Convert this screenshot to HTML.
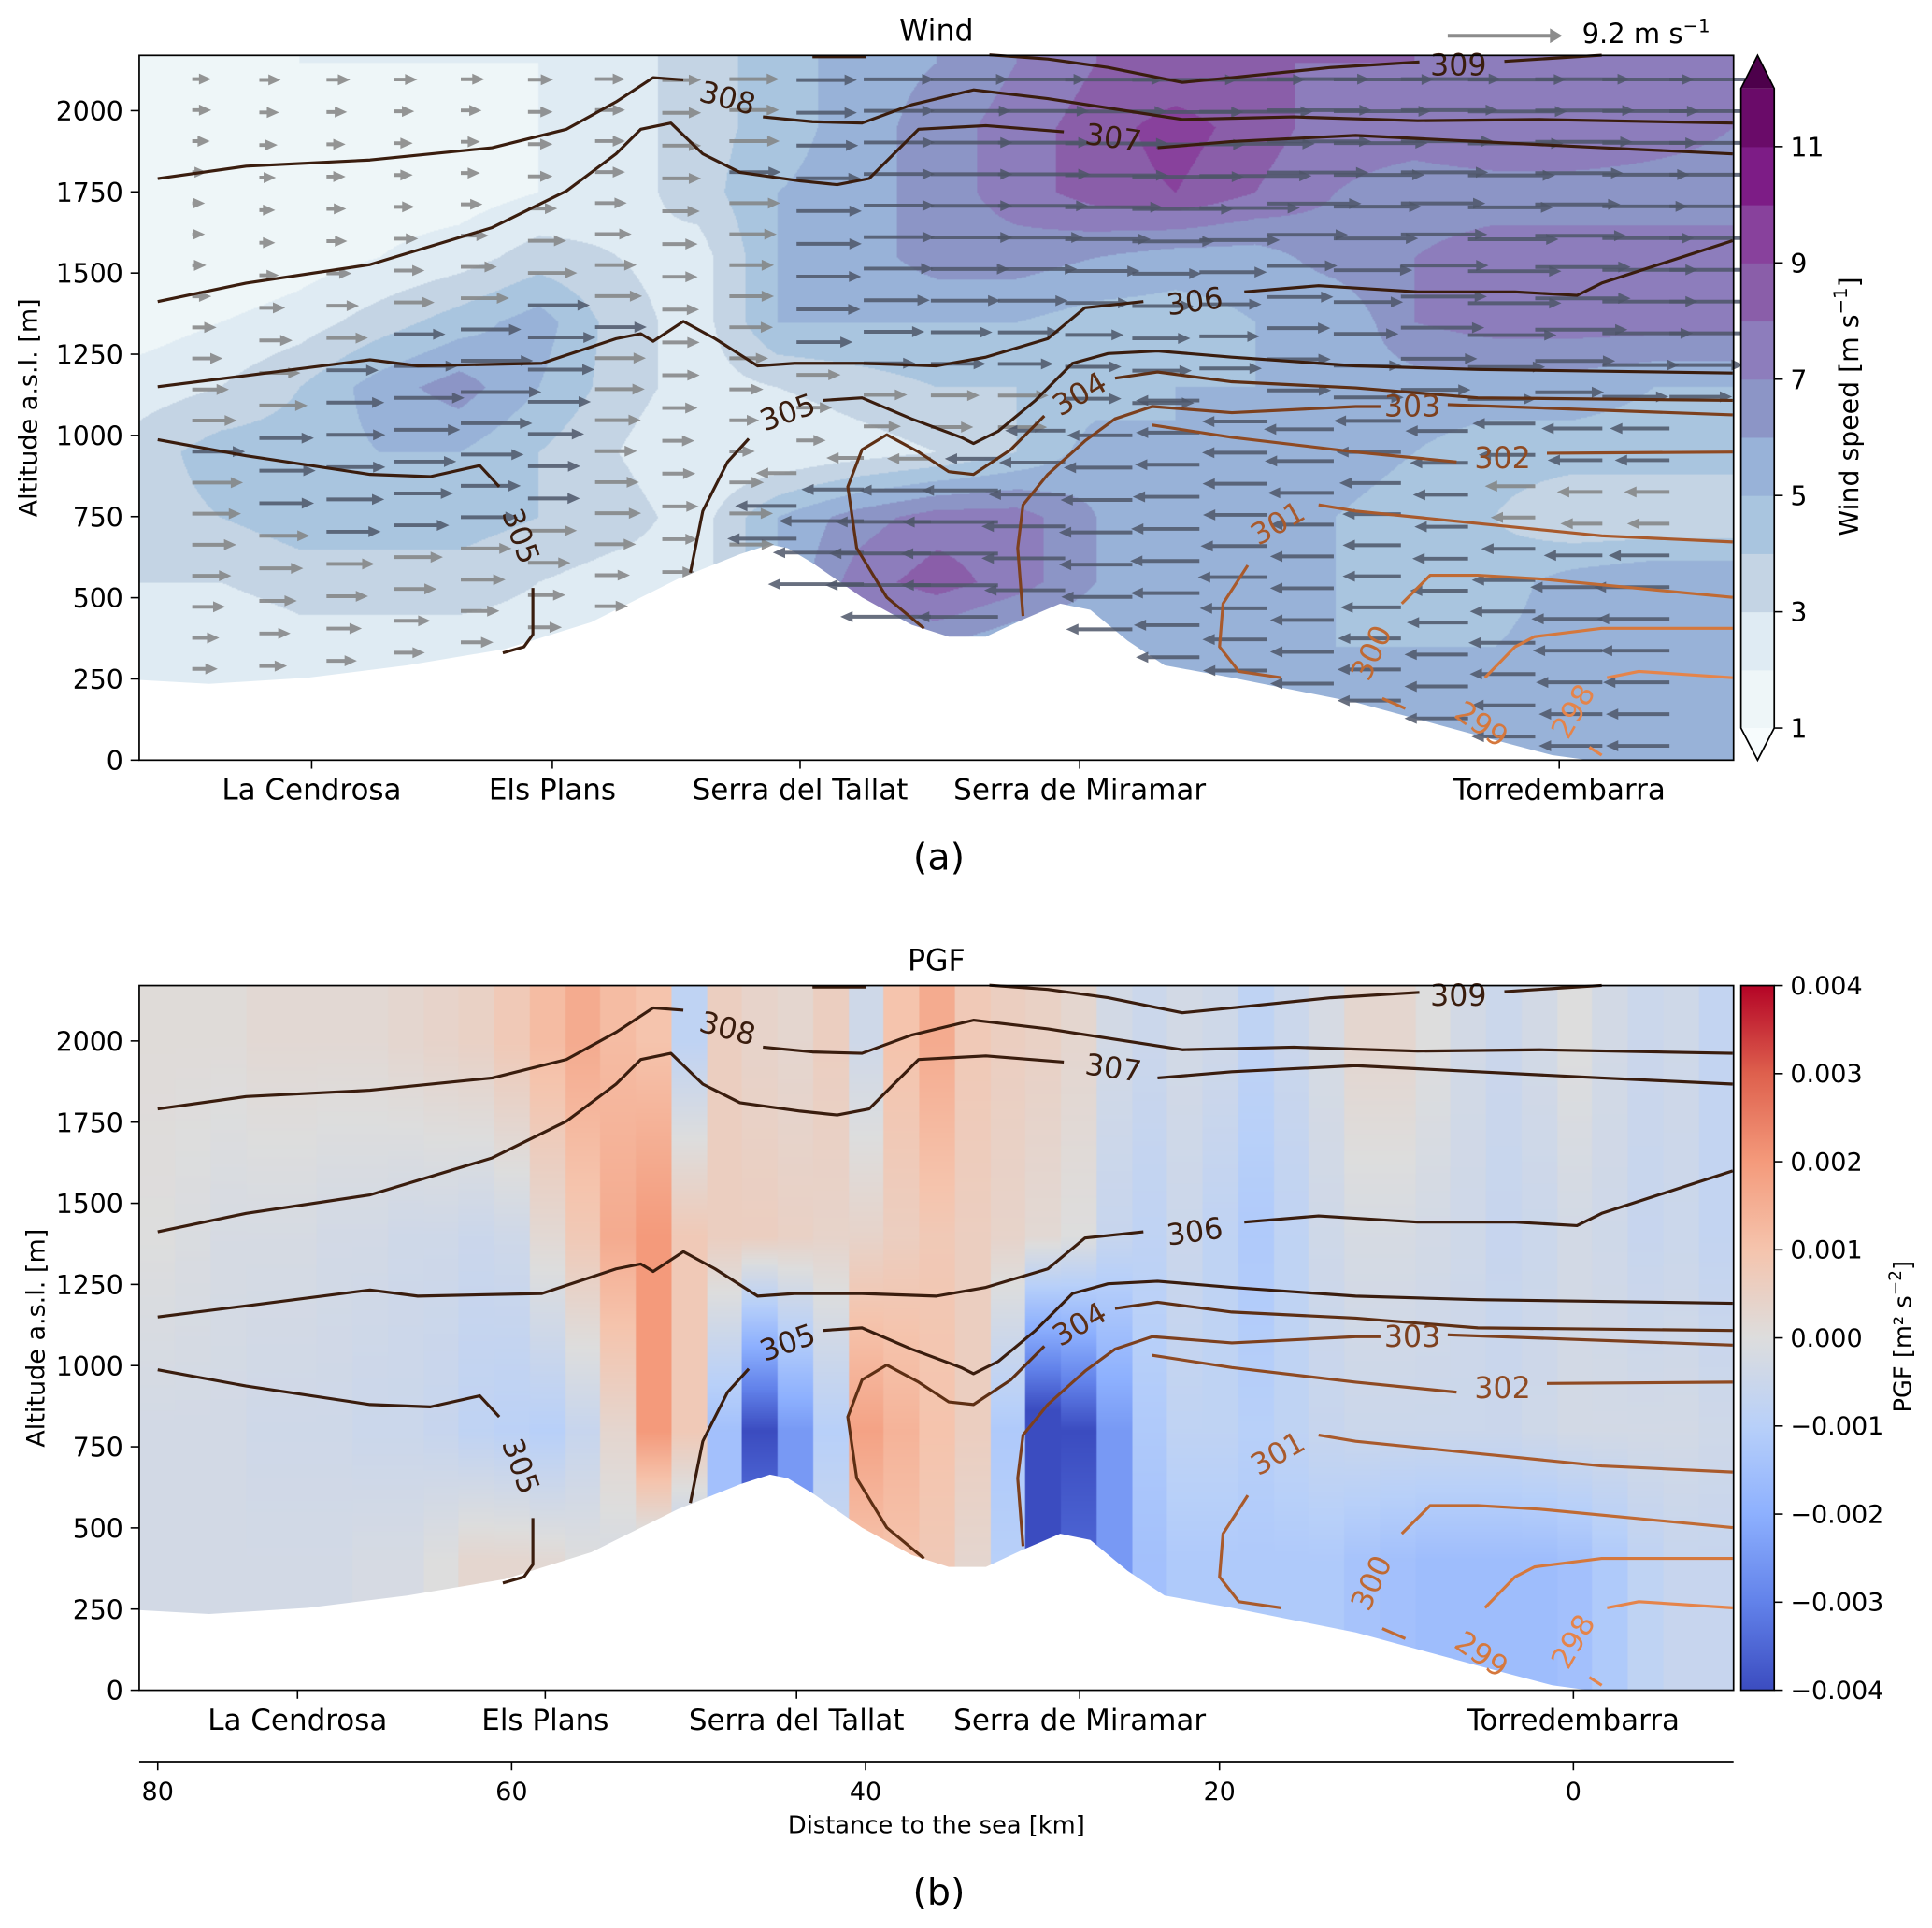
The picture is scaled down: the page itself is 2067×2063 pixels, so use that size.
<!DOCTYPE html>
<html><head><meta charset="utf-8"><style>
html,body{margin:0;padding:0;background:#fff;}
#wrap{position:relative;width:1568px;height:1565px;transform:scale(1.3182,1.3182);transform-origin:0 0;font-family:"DejaVu Sans","Liberation Sans",sans-serif;}
canvas{position:absolute;}
svg{position:absolute;left:0;top:0;}
</style></head><body>
<div id="wrap">
<canvas id="cw" width="1294" height="572" style="left:113px;top:45px;width:1294px;height:572px"></canvas>
<canvas id="cp" width="1294" height="572" style="left:113px;top:800px;width:1294px;height:572px"></canvas>
<svg id="sv" width="1568" height="1565" viewBox="0 0 1568 1565"></svg>
</div>
<script>
// ---------- data ----------
const speedKm=[81,76.5,72,67.5,63,58.5,54,49.5,45,40.5,36,31.5,27,22.5,18,13.5,9,4.5,0,-4.5,-9];
const speedAlt=[2150,1950,1750,1550,1350,1150,950,750,550,350,150];
const speedRows=[
[1.5,1.5,2,2,2,2,2.5,3.5,4.5,5.5,6,7,8,8,8,8,8,7.5,7,7,7],
[1.5,1.5,1.5,1.5,1.5,2,2.5,3.5,4.5,5.5,6.5,7.5,8.5,9.5,8.5,7.5,7.5,8,8,7.5,7],
[1,1,1.5,1.5,1.5,2,2.5,3.5,5,5.5,6.5,7.5,8.5,9,8,7,6.5,6.5,6.5,6.5,6.5],
[1,1,1.5,2,2.5,3.5,3,2.5,5,5.5,6.5,6.5,6,5.5,5.5,6.5,7,7.5,7.5,7.5,7.5],
[1.5,2,2.5,3.5,4.5,5.5,3.5,2.5,5,5,5,5,4.5,4.5,5,5,7,7.5,7.5,7.5,7.5],
[2.5,3,4,5.5,6.5,5,3.5,2.5,3,3.5,4,4,4.5,5,5,5.5,5.5,5.5,5.5,5,5],
[3.5,4.5,4.5,5,5,4,3,2,2,2.5,3,4,5.5,5,5,5.5,5,4.5,4.5,4.5,4.5],
[3.5,4,4.5,4.5,4.5,4,3.5,2.5,5,6.5,7.5,7.5,6,5.5,5,5,4.5,4,3,3,3],
[3,3,3.5,3.5,3.5,3,2.5,2.5,5,7.5,8.5,7.5,6,5.5,5.5,5,4.5,4.5,5.5,6,6],
[2,2,2.5,2.5,2.5,2.5,2.5,3,4,6,6,5,5,5,5,5,5,5,5.5,5.5,5.5],
[2,2,2,2,2,2,2,2,3,4,4,4,5,5,5,5,5,5,5,5,5]];
const reverseBelow=[0,0,0,0,0,0,0,0,900,950,950,1000,1050,1150,1100,1050,1050,1050,1050,1050,1050];
const pgfAlt=[2000,1400,800,400];
const pgf2000=[0.0001,0.0001,0.0001,0.0002,0.0002,0.0002,0.0002,0.0003,0.0004,0.0005,0.0008,0.0012,0.0016,0.0012,0.0010,-0.0008,0.0006,0.0004,0.0003,0.0006,-0.0004,0.0010,0.0016,0.0008,0.0006,0.0005,0.0003,-0.0003,-0.0005,-0.0003,-0.0004,-0.0008,-0.0005,-0.0002,0.0003,0.0003,0,-0.0003,-0.0005,-0.0003,0,-0.0003,-0.0005,-0.0004,-0.0007];
const pgf1400=[0,-0.0001,-0.0002,-0.0002,-0.0002,-0.0003,-0.0003,-0.0004,-0.0004,-0.0005,-0.0004,0.0002,0.0008,0.0016,0.0020,0.0008,0.0006,0.0006,0.0005,0.0004,0.0004,0.0006,0.0008,0.0006,0.0004,0.0002,0,-0.0006,-0.0008,-0.0005,-0.0008,-0.0012,-0.0008,-0.0004,-0.0002,-0.0002,-0.0003,-0.0004,-0.0006,-0.0005,-0.0003,-0.0004,-0.0006,-0.0005,-0.0007];
const pgf800=[-0.0003,-0.0003,-0.0003,-0.0004,-0.0004,-0.0004,-0.0005,-0.0005,-0.0006,-0.0008,-0.0009,-0.0010,-0.0006,0.0003,0.0020,0.0008,-0.0015,-0.0040,-0.0025,-0.0010,0.0018,0.0014,0.0010,0.0006,-0.0012,-0.0045,-0.0040,-0.0025,-0.0012,-0.0008,-0.0008,-0.0010,-0.0008,-0.0006,-0.0005,-0.0005,-0.0005,-0.0005,-0.0005,-0.0004,-0.0003,-0.0003,-0.0003,-0.0003,-0.0004];
const pgf400=[-0.0003,-0.0003,-0.0003,-0.0003,-0.0003,-0.0003,-0.0002,-0.0002,0,0.0003,0.0003,0.0002,0,-0.0002,-0.0006,-0.0010,-0.0015,-0.0030,-0.0025,-0.0005,0.0010,0.0010,0.0008,0.0003,-0.0010,-0.0040,-0.0035,-0.0025,-0.0015,-0.0012,-0.0012,-0.0012,-0.0012,-0.0012,-0.0014,-0.0015,-0.0016,-0.0016,-0.0016,-0.0016,-0.0015,-0.0012,-0.0008,-0.0006,-0.0006];
const terrainKm=[81.1,77.1,71.5,65.9,60.4,55.5,50.6,47.1,45.4,44.4,43,40.2,37.4,35.3,33.2,31.1,29,27.3,25.2,23.1,19.3,12.3,5.4,1.2,-0.9,-9.1];
const terrainAlt=[247,235,254,292,342,425,558,634,664,653,607,501,417,380,380,433,482,463,368,292,254,178,76,15,0,0];
const c309=[[[43,2166],[40,2166]],[[33,2172],[29.7,2159],[26.3,2133],[22.1,2087],[19.3,2102],[13.7,2133],[8.7,2150]],[[3.9,2152],[-1.6,2171]]];
const c308=[[[80,1791],[75,1829],[68,1848],[61.1,1886],[56.9,1943],[54.1,2027],[52,2102],[50.3,2095]],[[45.8,1981],[43,1966],[40.2,1962],[37.4,2018],[33.9,2064],[29.7,2037],[22.1,1973],[15.8,1981],[8.8,1969],[1.9,1973],[-9,1962]]];
const c307=[[[80,1412],[75,1469],[68,1526],[61.1,1640],[56.9,1753],[54.1,1867],[52.7,1943],[51,1962],[49.2,1867],[47.1,1810],[43.7,1784],[41.6,1772],[39.8,1791],[38.4,1867],[37,1943],[33.2,1954],[28.8,1935]],[[23.5,1886],[19.3,1905],[12.3,1924],[5.4,1905],[-1.6,1886],[-9,1867]]];
const c306=[[[80,1150],[75,1184],[68,1233],[65.3,1214],[58.3,1222],[54.1,1298],[52.7,1313],[52,1290],[50.3,1351],[48.5,1298],[46.1,1214],[44,1222],[40.2,1222],[36,1214],[33.2,1241],[29.7,1298],[27.6,1393],[24.3,1412]],[[18.6,1442],[14.4,1461],[8.8,1442],[3.3,1442],[-0.2,1431],[-1.6,1469],[-9,1600]]];
const c305a=[[[80,987],[75,937],[68,880],[64.6,873],[61.8,907],[60.7,842]],[[58.8,530],[58.8,387],[59.3,349],[60.5,330]]];
const c305b=[[[49.9,577],[49.2,767],[47.8,918],[46.6,990]],[[42.4,1108],[40.2,1116],[37.4,1051],[34.6,994],[33.9,975],[32.5,1013],[30.4,1108],[28.3,1222],[26.3,1252],[23.5,1260],[19.3,1241],[12.3,1214],[5.4,1203],[-9,1192]]];
const c304=[[[36.7,406],[38.8,501],[40.5,653],[41,842],[40.2,956],[38.8,1002],[37,949],[35.3,888],[33.9,880],[31.8,956],[29.9,1060]],[[25.9,1176],[23.5,1195],[19.3,1165],[12.3,1146],[5.4,1116],[-9,1108]]];
const c303=[[[31.1,444],[31.4,653],[31.1,786],[29.7,880],[27.6,983],[25.9,1051],[23.8,1089],[19.3,1070],[12.3,1089],[10.9,1089]],[[7.1,1095],[-9,1063]]];
const c302=[[[23.8,1032],[19.3,994],[12.3,949],[6.6,918]],[[1.5,945],[-9,949]]];
const c301=[[[16.5,254],[18.9,273],[20,349],[19.8,482],[18.4,600]],[[14.4,786],[12.3,767],[5.4,729],[-1.6,691],[-9,672]]];
const c300=[[[10.8,190],[9.5,159]],[[9.7,482],[8.1,569],[5.4,569],[1.9,558],[-9,501]]];
const c299=[[[5,254],[3.3,349],[2.2,380],[-1.6,406],[-9,406]]];
const c298=[[[-1.9,254],[-3.7,273],[-9,254]],[[-0.9,40],[-1.6,15]]];
const contourLevels=[309,308,307,306,305,305,304,303,302,301,300,299,298];
const contourLines=[c309,c308,c307,c306,c305a,c305b,c304,c303,c302,c301,c300,c299,c298];
const contourColors=['#3a1d0e','#3a1d0e','#3a1d0e','#3a1d0e','#3a1d0e','#3a1d0e','#5e2f14','#7d401e','#8f4a22','#a95a2c','#c06a33','#d5783d','#e5844a'];
const labelKm=[6.5,47.8,26,21.4,59.5,44.4,27.9,9.1,4,16.7,11.4,5.2,0];
const labelAlt=[2140,2038,1916,1412,690,1070,1127,1089,930,729,330,110,150];
const labelRot=[0,15,8,-8,70,-20,-30,0,0,-30,-65,35,-60];
const placeNames=['La Cendrosa','Els Plans','Serra del Tallat','Serra de Miramar','Torredembarra'];
const placeKmTop=[71.3,57.7,43.7,27.9,0.8];
const placeKmBot=[72.1,58.1,43.9,27.9,0];
const distTicks=[80,60,40,20,0];
const altTicks=[0,250,500,750,1000,1250,1500,1750,2000];
const speedTicks=[1,3,5,7,9,11];
const pgfTicks=[-0.004,-0.003,-0.002,-0.001,0,0.001,0.002,0.003,0.004];
const speedColors=['#eef6f8','#dfebf3','#c4d4e4','#a9c5df','#98b2d8','#8c95c6','#8d7dbc','#8a5ea9','#88419c','#7d1c86','#6a0b69'];
const refSpeed=9.2;

// ---------- scales ----------
const X=km=>1277-14.3625*km;
const KM=x=>(1277-x)/14.3625;
const Yt=a=>617-a/3.794;
const Yb=a=>1372-a/3.795;
function interp1(xs,ys,v){
  if(v>=xs[0])return ys[0];
  for(let i=1;i<xs.length;i++){if(v>=xs[i]){const t=(xs[i-1]-v)/(xs[i-1]-xs[i]);return ys[i-1]+t*(ys[i]-ys[i-1]);}}
  return ys[ys.length-1];
}
const ground=km=>interp1(terrainKm,terrainAlt,km);
function speedAt(km,alt){
  let fi=(81-km)/4.5; fi=Math.max(0,Math.min(20,fi));
  let fj=(2150-alt)/200; fj=Math.max(0,Math.min(10,fj));
  const i=Math.min(19,Math.floor(fi)),j=Math.min(9,Math.floor(fj));const ti=fi-i,tj=fj-j;
  const a=speedRows[j][i],b=speedRows[j][i+1],c=speedRows[j+1][i],d=speedRows[j+1][i+1];
  return (a*(1-ti)+b*ti)*(1-tj)+(c*(1-ti)+d*ti)*tj;
}
function speedColor(s){if(s<1)return '#ffffff';if(s>=12)return '#4d004b';return speedColors[Math.floor(s)-1];}
function hex(h){return [parseInt(h.substr(1,2),16),parseInt(h.substr(3,2),16),parseInt(h.substr(5,2),16)];}
const cw=[[59,76,192],[98,130,234],[141,176,254],[184,208,249],[221,221,221],[245,196,173],[244,154,123],[222,96,77],[180,4,38]];
function coolwarm(v){let t=(v/0.004+1)/2;t=Math.max(0,Math.min(1,t))*8;const i=Math.min(7,Math.floor(t));const f=t-i;return cw[i].map((c,k)=>Math.round(c+(cw[i+1][k]-c)*f));}

// ---------- wind field ----------
(function(){
  const ctx=document.getElementById('cw').getContext('2d');const im=ctx.createImageData(1294,572);
  const cache={};
  for(let py=0;py<572;py++){const alt=(617-(py+45))*3.794;
    for(let px=0;px<1294;px++){const km=KM(px+113);const col=speedColor(speedAt(km,alt));
      const rgb=cache[col]||(cache[col]=hex(col));const o=(py*1294+px)*4;
      im.data[o]=rgb[0];im.data[o+1]=rgb[1];im.data[o+2]=rgb[2];im.data[o+3]=255;}}
  ctx.putImageData(im,0,0);
})();
// ---------- pgf field ----------
(function(){
  const ctx=document.getElementById('cp').getContext('2d');const im=ctx.createImageData(1294,572);
  const w=1294/45;
  for(let px=0;px<1294;px++){const c=Math.min(44,Math.floor(px/w));
    const vals=[pgf2000[c],pgf1400[c],pgf800[c],pgf400[c]];
    for(let py=0;py<572;py++){const alt=(1372-(py+800))*3.795;
      const v=alt>=2000?vals[0]:alt<=400?vals[3]:(function(){for(let k=1;k<4;k++){if(alt>=pgfAlt[k]){const t=(pgfAlt[k-1]-alt)/(pgfAlt[k-1]-pgfAlt[k]);return vals[k-1]+t*(vals[k]-vals[k-1]);}}})();
      const rgb=coolwarm(v);const o=(py*1294+px)*4;
      im.data[o]=rgb[0];im.data[o+1]=rgb[1];im.data[o+2]=rgb[2];im.data[o+3]=255;}}
  ctx.putImageData(im,0,0);
})();

// ---------- svg ----------
const NS='http://www.w3.org/2000/svg';const sv=document.getElementById('sv');
function mk(tag,attrs,parent){const e=document.createElementNS(NS,tag);for(const k in attrs)e.setAttribute(k,attrs[k]);(parent||sv).appendChild(e);return e;}
function txt(s,x,y,size,anchor,parent,extra){const e=mk('text',Object.assign({x:x,y:y,'font-size':size,'text-anchor':anchor||'middle',fill:'#000'},extra||{}),parent);e.textContent=s;return e;}

function drawPanel(Y,top,isTop){
  const g=mk('g',{});
  
  
  let pts=terrainKm.map((k,i)=>X(k).toFixed(1)+','+Y(terrainAlt[i]).toFixed(1)).join(' ');
  pts+=' 1408,'+(Y(0)+1)+' 112,'+(Y(0)+1);
  const tm=mk('polygon',{points:pts,fill:'#fff'},g);
  
  
  if(isTop){
    const ag=mk('g',{},g);
    
    
    for(let x=156;x<=1407;x+=54.5){const km=KM(x);const gr=ground(km);
      const rev=interp1(speedKm,reverseBelow,km);
      const N=Math.round((2150-gr)/98);
      for(let k=0;k<N;k++){const alt=gr+(2150-gr)*(k+0.45)/N;if(alt<gr+20)continue;
        const s=speedAt(km,alt);const dir=alt<rev?-1:1;const L=s/refSpeed*95;
        const y=Y(alt);const sc=Math.min(1,L/11);const hl=10*sc,hw=4.5*sc,sw=1.5*sc;
        const x2=x+dir*L,xb=x2-dir*hl;
        const d='M'+x+','+(y-sw)+' L'+xb+','+(y-sw)+' L'+xb+','+(y-hw)+' L'+x2+','+y+' L'+xb+','+(y+hw)+' L'+xb+','+(y+sw)+' L'+x+','+(y+sw)+'Z';
        const a=mk('path',{d:d,fill:s<4?'#828282':'#4d5668','fill-opacity':'0.85'},ag);
        
        
      }}
  }
  contourLines.forEach((segs,ci)=>{
    const cg=mk('g',{},g);
    
    
    segs.forEach(seg=>{mk('polyline',{points:seg.map(p=>X(p[0]).toFixed(1)+','+Y(p[1]).toFixed(1)).join(' '),fill:'none',stroke:contourColors[ci],'stroke-width':2.4,'stroke-linejoin':'round'},cg);});
    const lx=X(labelKm[ci]),ly=Y(labelAlt[ci]);
    const t=txt(String(contourLevels[ci]),lx,ly+8,24,'middle',cg,{fill:contourColors[ci],transform:'rotate('+labelRot[ci]+' '+lx+' '+ly+')'});
    
    
  });
  const fr=mk('rect',{x:113,y:top,width:1294,height:572,fill:'none',stroke:'#000','stroke-width':1.3},g);
  
  
  const yg=mk('g',{},g);
  
  
  altTicks.forEach(a=>{const y=Y(a);mk('line',{x1:106,x2:113,y1:y,y2:y,stroke:'#000','stroke-width':1.2},yg);txt(String(a),100,y+8,21.5,'end',yg);});
  const yl=txt('Altitude a.s.l. [m]',0,0,20.5,'middle',g,{transform:'translate('+(isTop?30:36)+','+(Y(1085))+') rotate(-90)'});
  
  
  const pk=isTop?placeKmTop:placeKmBot;
  const xg=mk('g',{},g);
  
  
  pk.forEach((k,i)=>{const x=X(k);mk('line',{x1:x,x2:x,y1:top+572,y2:top+579,stroke:'#000','stroke-width':1.2},xg);txt(placeNames[i],x,top+604,23.5,'middle',xg);});
  const ti=txt(isTop?'Wind':'PGF',760,top-12,24,'middle',g);
  
  
}
drawPanel(Yt,45,true);
drawPanel(Yb,800,false);

const rv=mk('g',{});


mk('path',{d:'M1175,27.5 L1258,27.5 L1258,23 L1268,29 L1258,35 L1258,30.5 L1175,30.5Z',fill:'#8c8c8c'},rv);
const rt=txt('9.2 m s',1284,35,22,'start',rv);
const sup=document.createElementNS(NS,'tspan');sup.setAttribute('dy','-9');sup.setAttribute('font-size','15');sup.textContent='−1';rt.appendChild(sup);

const cb1=mk('g',{});


const cbY=v=>591-(v-1)*47.2;
speedColors.forEach((c,i)=>{mk('rect',{x:1413,y:cbY(i+2),width:27,height:47.6,fill:c},cb1);});
mk('polygon',{points:'1413,'+cbY(12)+' 1440,'+cbY(12)+' 1426.5,45',fill:'#4d004b'},cb1);
mk('polygon',{points:'1413,591 1440,591 1426.5,617',fill:'#f7fcfd'},cb1);
mk('path',{d:'M1413,591 L1413,'+cbY(12)+' L1426.5,45 L1440,'+cbY(12)+' L1440,591 L1426.5,617Z',fill:'none',stroke:'#000','stroke-width':1.3},cb1);
speedTicks.forEach(v=>{const y=cbY(v);mk('line',{x1:1440,x2:1447,y1:y,y2:y,stroke:'#000','stroke-width':1.2},cb1);txt(String(v),1453,y+8,21.5,'start',cb1);});
const wl=txt('Wind speed [m s',0,0,21.5,'middle',cb1,{transform:'translate(1508,330) rotate(-90)'});
const ws=document.createElementNS(NS,'tspan');ws.setAttribute('dy','-9');ws.setAttribute('font-size','15');ws.textContent='−1';wl.appendChild(ws);
const ws2=document.createElementNS(NS,'tspan');ws2.setAttribute('dy','9');ws2.textContent=']';wl.appendChild(ws2);

const cb2=mk('g',{});


const defs=mk('defs',{});const lg=mk('linearGradient',{id:'cwg',x1:0,y1:1,x2:0,y2:0},defs);
cw.forEach((c,i)=>mk('stop',{offset:(i/8),'stop-color':'rgb('+c.join(',')+')'},lg));
mk('rect',{x:1413,y:800,width:27,height:572,fill:'url(#cwg)',stroke:'#000','stroke-width':1.3},cb2);
pgfTicks.forEach(v=>{const y=1372-(v+0.004)/0.008*572;mk('line',{x1:1440,x2:1447,y1:y,y2:y,stroke:'#000','stroke-width':1.2},cb2);txt((v<0?'−':'')+Math.abs(v).toFixed(3),1453,y+7,20.5,'start',cb2);});
const pl=txt('PGF [m² s',0,0,19.5,'middle',cb2,{transform:'translate(1551,1085) rotate(-90)'});
const ps=document.createElementNS(NS,'tspan');ps.setAttribute('dy','-8');ps.setAttribute('font-size','14');ps.textContent='−2';pl.appendChild(ps);
const ps2=document.createElementNS(NS,'tspan');ps2.setAttribute('dy','8');ps2.textContent=']';pl.appendChild(ps2);

const dx=mk('g',{});


mk('line',{x1:113,x2:1407,y1:1430,y2:1430,stroke:'#000','stroke-width':1.3},dx);
distTicks.forEach(k=>{const x=X(k);mk('line',{x1:x,x2:x,y1:1430,y2:1437,stroke:'#000','stroke-width':1.2},dx);txt(String(k),x,1461,20.5,'middle',dx);});
const xt=txt('Distance to the sea [km]',760,1488,19.5,'middle',dx);


const la=txt('(a)',762,706,30,'middle');


const lb=txt('(b)',762,1546,30,'middle');


</script>
</body></html>
